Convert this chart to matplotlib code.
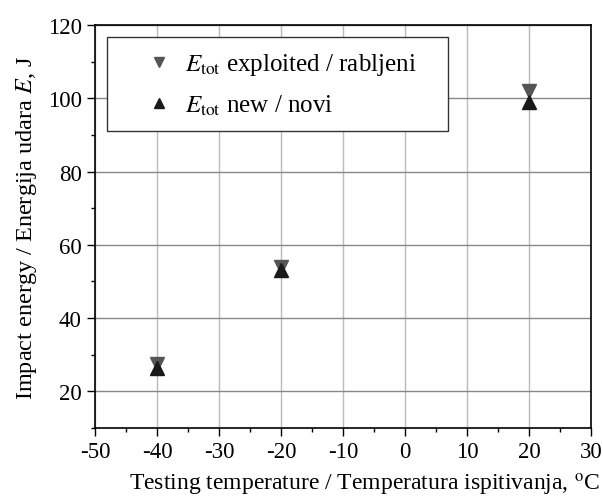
import numpy as np
import matplotlib.pyplot as plt
from matplotlib.ticker import MultipleLocator

plt.rcParams['font.family'] = ['Liberation Serif', 'DejaVu Serif']
plt.rcParams['mathtext.fontset'] = 'stix'
plt.rcParams['axes.unicode_minus'] = False

temp = [-40, -20, 20]
e_exploited = [27.5, 54, 102]
e_new = [26.5, 53, 99]

fig = plt.figure(figsize=(6.03, 5.02), dpi=100)
ax = fig.add_axes([0.1575, 0.1454, 0.8226, 0.8028])

ax.plot(temp, e_exploited, 'v', color='#555555', ms=9.5, ls='none',
        label=r'$E_{\mathrm{tot}}$ exploited / rabljeni', zorder=3)
ax.plot(temp, e_new, '^', color='#1a1a1a', ms=9.5, ls='none',
        label=r'$E_{\mathrm{tot}}$ new / novi', zorder=3)

ax.set_xlim(-50, 30)
ax.set_ylim(10, 120)
ax.xaxis.set_major_locator(MultipleLocator(10))
ax.xaxis.set_minor_locator(MultipleLocator(5))
ax.set_yticks([20, 40, 60, 80, 100, 120])
ax.yaxis.set_minor_locator(MultipleLocator(10))
ax.tick_params(which='major', direction='out', length=6, width=1, labelsize=16.5)
ax.tick_params(which='minor', direction='out', length=3, width=1)

ax.grid(axis='x', color='#bbbbbb', lw=1)
ax.grid(axis='y', color='#888888', lw=1)
ax.set_axisbelow(True)
for s in ax.spines.values():
    s.set_linewidth(1.2)

ax.set_xlabel('Testing temperature / Temperatura ispitivanja, $^{\\mathrm{o}}$C',
              fontsize=17, x=0.544, labelpad=6)
ax.set_ylabel('Impact energy / Energija udara $E$, J', fontsize=17.5, labelpad=6)

leg = ax.legend(loc='upper left', bbox_to_anchor=(0.024, 0.0, 0.688, 0.970),
                mode='expand', borderaxespad=0, fontsize=18,
                fancybox=False, edgecolor='#333333', framealpha=1,
                borderpad=0.57, handletextpad=-0.45, labelspacing=0.6,
                handlelength=3.0, markerscale=0.75)
leg.get_frame().set_linewidth(1)

fig.savefig('out.png', dpi=100)
